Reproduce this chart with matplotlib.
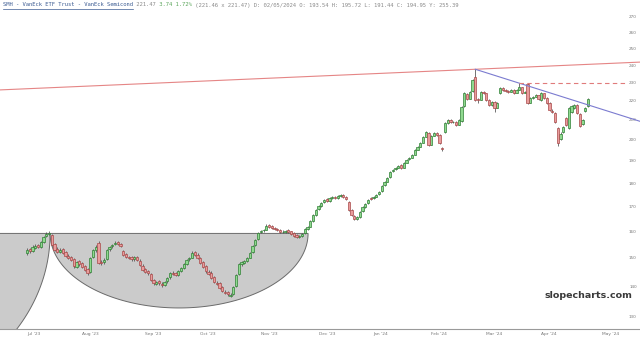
import numpy as np
import pandas as pd
import matplotlib
matplotlib.use("Agg")
import matplotlib.pyplot as plt
import matplotlib.ticker as mticker
from matplotlib.patches import Polygon
from matplotlib.lines import Line2D

# daily OHLC, one value per trading day starting 2023-07-03
opens = [152.0,153.5,152.8,154.0,154.9,154.3,156.2,158.3,159.0,158.8,
         155.2,153.6,152.4,153.3,152.2,151.0,150.6,149.8,147.0,149.0,
         148.3,147.2,146.2,145.1,150.4,153.0,155.7,148.6,148.5,149.6,
         153.4,154.4,155.2,156.0,155.5,152.6,151.6,150.2,150.4,149.6,
         150.6,149.2,147.4,146.2,145.4,144.5,142.2,140.9,141.8,141.0,
         140.7,141.8,143.2,144.9,144.6,144.1,145.5,146.6,148.0,149.6,
         150.3,152.3,151.4,150.2,148.6,147.3,145.0,144.9,143.3,141.2,
         141.2,139.9,138.3,138.2,137.0,137.6,140.2,144.3,148.0,148.4,
         149.2,150.3,152.2,154.8,157.2,159.8,160.6,160.9,162.6,162.2,
         161.7,161.3,160.9,159.8,160.1,160.6,160.2,159.4,158.6,157.9,
         158.5,159.4,161.3,162.1,164.5,166.9,169.0,170.6,171.9,173.2,
         172.7,173.9,174.4,173.9,174.7,175.2,174.3,172.0,168.6,166.5,
         165.0,166.1,168.2,170.2,171.5,173.6,173.6,174.4,175.3,176.8,
         179.2,180.9,182.7,185.4,186.3,187.2,188.2,187.2,189.5,190.9,
         191.8,193.2,195.6,197.0,198.9,201.9,203.8,198.0,202.4,203.8,
         202.5,196.5,204.0,208.9,210.4,209.0,209.4,207.9,209.5,217.3,
         224.2,221.5,225.4,233.5,221.5,220.9,225.3,224.3,220.9,217.8,
         219.9,216.7,224.6,227.5,226.0,225.4,225.3,226.4,224.7,226.4,
         227.6,224.7,229.6,219.3,222.0,222.6,223.2,220.5,224.3,222.0,
         219.3,215.0,214.0,206.1,200.7,204.2,211.2,206.1,214.4,216.5,
         218.0,213.3,208.2,214.9,217.5]
highs = [153.8,154.0,154.8,155.3,155.4,156.5,158.4,159.8,160.4,159.2,
         155.8,154.3,153.8,153.7,152.6,151.6,151.0,150.2,149.2,149.5,
         148.6,147.5,146.5,150.6,153.6,154.8,156.3,149.4,150.0,153.5,
         154.7,155.5,156.3,156.4,155.9,153.0,152.0,151.0,150.8,151.0,
         151.0,149.6,147.9,146.6,145.8,144.9,142.6,142.1,142.2,141.5,
         142.0,143.4,145.1,145.3,145.0,145.9,146.9,148.3,149.8,150.6,
         152.6,152.8,151.9,150.6,149.0,147.6,145.9,145.3,143.7,142.0,
         141.6,140.3,139.0,138.6,137.9,140.3,144.5,148.3,149.2,149.5,
         150.6,152.4,155.0,157.3,160.0,160.9,161.2,163.0,163.1,162.6,
         162.1,161.7,161.3,160.6,160.9,161.0,160.5,159.8,159.0,158.9,
         159.6,161.5,162.3,164.8,167.2,169.3,170.9,172.2,173.5,173.6,
         174.3,174.7,174.8,175.1,175.6,175.6,174.7,172.4,169.0,166.9,
         166.4,168.5,170.5,171.8,173.5,174.0,174.7,175.6,176.9,179.5,
         181.2,183.0,185.7,186.6,187.5,188.4,188.6,189.8,191.2,192.1,
         193.5,195.9,197.3,199.2,202.2,204.7,204.2,202.7,204.1,204.2,
         202.9,197.0,209.2,210.7,210.8,209.8,209.8,210.7,217.5,225.0,
         224.6,225.6,232.4,237.9,222.0,225.6,225.7,224.7,221.3,220.2,
         220.3,219.6,227.8,228.0,226.9,226.0,226.7,226.8,226.7,230.0,
         228.0,225.6,229.9,222.3,222.9,223.9,223.6,225.0,224.7,222.4,
         219.7,215.8,214.4,206.6,204.0,207.4,211.8,217.0,218.0,218.5,
         218.6,213.8,210.7,217.0,222.0]
lows = [151.4,152.0,152.4,153.4,153.7,154.0,155.8,157.9,158.6,154.6,
        152.6,151.8,151.9,151.5,150.4,149.6,148.9,146.6,146.5,147.4,
        146.4,145.3,144.1,144.8,150.0,152.4,147.9,147.6,148.0,149.3,
        152.8,153.9,154.8,154.9,154.1,150.8,150.0,149.6,149.2,149.2,
        148.9,147.1,145.3,144.6,144.2,141.9,140.7,140.5,140.7,140.0,
        140.3,141.4,142.8,143.9,143.5,143.8,145.1,146.2,147.6,149.2,
        150.0,150.8,149.6,147.8,146.4,144.9,143.9,142.6,141.1,140.5,
        139.1,138.1,137.4,137.0,136.5,137.2,139.8,143.9,147.4,147.9,
        148.8,150.0,151.9,154.4,156.8,159.4,160.0,160.6,161.5,161.0,
        160.6,160.2,159.6,159.4,159.7,159.6,158.8,158.0,157.5,157.5,
        158.1,159.0,160.9,161.8,164.1,166.5,168.6,170.2,171.5,172.0,
        172.3,173.5,173.3,173.5,174.3,173.7,172.9,168.3,166.2,164.6,
        164.6,165.7,167.8,169.8,171.1,172.9,173.2,174.0,174.9,176.4,
        178.8,180.5,182.3,185.0,185.9,186.8,186.5,186.8,189.1,190.5,
        191.4,192.8,195.2,196.6,198.5,201.5,197.3,197.6,202.0,202.2,
        198.2,195.0,203.6,208.4,208.7,208.6,207.2,207.5,209.1,216.9,
        220.8,221.1,225.0,220.2,219.0,220.5,224.0,220.2,217.5,217.4,
        214.5,216.3,224.2,225.8,225.2,224.6,224.9,224.0,224.3,226.0,
        224.0,224.3,218.6,218.9,221.5,222.2,220.8,220.1,221.3,218.6,
        214.9,213.9,208.7,197.5,200.0,203.6,207.2,205.6,214.0,216.0,
        213.3,206.6,207.8,214.4,217.0]
closes = [153.1,152.7,154.2,154.6,154.2,156.1,158.0,159.2,159.6,155.0,
          153.1,152.3,153.1,152.0,150.9,150.1,149.4,147.2,148.7,147.9,
          146.9,145.8,144.7,150.1,153.1,154.2,148.3,148.3,149.4,153.1,
          154.2,155.0,155.7,155.3,154.6,151.2,150.5,150.1,149.7,150.5,
          149.4,147.6,145.8,145.1,144.7,142.3,141.2,141.6,141.2,140.5,
          141.6,143.0,144.7,144.4,144.0,145.4,146.5,147.9,149.4,150.1,
          152.0,151.2,150.1,148.3,146.9,145.4,144.4,143.0,141.6,140.9,
          139.5,138.5,137.8,137.5,137.2,139.9,144.0,147.9,148.7,149.0,
          150.1,152.0,154.6,156.9,159.6,160.4,160.7,162.3,161.9,161.5,
          161.1,160.7,160.0,160.0,160.4,160.0,159.2,158.4,158.0,158.4,
          159.2,161.1,161.9,164.3,166.7,168.8,170.4,171.7,173.0,172.5,
          173.8,174.2,173.8,174.6,175.1,174.2,173.4,168.8,166.7,165.1,
          165.9,168.0,170.0,171.3,173.0,173.4,174.2,175.1,176.4,179.0,
          180.7,182.5,185.2,186.1,187.0,187.9,187.0,189.3,190.7,191.6,
          193.0,195.4,196.8,198.7,201.7,204.2,197.8,202.2,203.6,202.7,
          198.7,195.9,208.7,210.2,209.2,209.2,207.7,210.2,217.0,224.5,
          221.3,225.1,231.8,220.7,220.7,225.1,224.5,220.7,218.0,219.7,
          216.5,219.1,227.3,226.2,225.6,225.1,226.2,224.5,226.2,227.8,
          224.5,225.1,219.1,221.8,222.4,223.4,221.3,224.5,221.8,219.1,
          215.4,214.4,209.2,198.7,203.2,206.7,207.7,216.5,217.5,218.0,
          213.8,207.2,210.2,216.5,221.5]

price_ticks = [130, 140, 150, 160, 170, 180, 190, 200, 210, 220, 230, 240, 250, 260, 270]
holidays = ["2023-07-04", "2023-09-04", "2023-11-23", "2023-12-25",
            "2024-01-01", "2024-01-15", "2024-02-19", "2024-03-29"]

# drawn studies: (bar, price) anchors
red_trend = [(-10, 226.2), (163, 237.9)]
blue_trend = [(163, 237.9), (215.6, 212.8)]
resistance = (179, 230.0, 217.5)          # start bar, level, end bar
cups = [(-137.1, 8.4, 159.4, 104.5),      # left bar, right bar, rim, bottom
        (8.4, 102.2, 159.4, 132.9)]

title_parts = [("SMH - VanEck ETF Trust - VanEck Semicond", "#3b5b92"),
               (" 221.47", "#8a8a8a"),
               (" 3.74 1.72%", "#5aa55a"),
               (" (221.46 x 221.47) D: 02/05/2024 O: 193.54 H: 195.72 L: 191.44 C: 194.95 Y: 255.39", "#8a8a8a")]

days = pd.bdate_range("2023-07-03", "2024-05-31")
days = days[~days.isin(pd.to_datetime(holidays))]
n = len(closes)
idx = np.arange(n)
o = np.array(opens); h = np.array(highs); l = np.array(lows); c = np.array(closes)

fig = plt.figure(figsize=(6.4, 3.43), dpi=100)
ax = fig.add_axes([0, 14 / 343, 1, 319 / 343])
ax.set_yscale("log")
xmin, xmax = -9.82, 222.9
ax.set_xlim(xmin, xmax)
ax.set_ylim(126.25, 274.9)

for s in ["top", "left", "right"]:
    ax.spines[s].set_visible(False)
ax.spines["bottom"].set_color("#9a9a9a")
ax.spines["bottom"].set_linewidth(0.8)

# cups: half ellipses built in screen space so they look round on the log axis
for left, right, rim, bottom in cups:
    x0, yr = ax.transData.transform((left, rim))
    x1, _ = ax.transData.transform((right, rim))
    _, yb = ax.transData.transform((left, bottom))
    t = np.linspace(np.pi, 2 * np.pi, 300)
    cx, a, b = (x0 + x1) / 2, (x1 - x0) / 2, yr - yb
    pts = np.column_stack([cx + a * np.cos(t), yr + b * np.sin(t)])
    ax.add_patch(Polygon(ax.transData.inverted().transform(pts), closed=True,
                         fc="#cbcbcb", ec="#6a6a6a", lw=0.7, zorder=1))

# candles
up = c >= o
ax.vlines(idx, l, h, color="#4d4d4d", lw=0.55, zorder=3)
body = np.maximum(np.abs(c - o), 0.3)
ax.bar(idx[up], body[up], bottom=np.minimum(o, c)[up], width=0.82,
       color="#8fd98f", edgecolor="#2f7f34", lw=0.5, zorder=4)
ax.bar(idx[~up], body[~up], bottom=np.minimum(o, c)[~up], width=0.82,
       color="#e99c9c", edgecolor="#a84848", lw=0.5, zorder=4)

# trend lines, extended to the chart edge
def extend(p0, p1, x_from, x_to):
    k = (np.log(p1[1]) - np.log(p0[1])) / (p1[0] - p0[0])
    xs = np.array([x_from, x_to])
    return xs, np.exp(np.log(p0[1]) + k * (xs - p0[0]))

xs, ys = extend(*red_trend, xmin, xmax)
ax.plot(xs, ys, color="#e58585", lw=0.8, zorder=5)
xs, ys = extend(*blue_trend, blue_trend[0][0], xmax)
ax.plot(xs, ys, color="#7b7bd0", lw=0.8, zorder=5)
ax.hlines(resistance[1], resistance[0], resistance[2], colors="#e07b7b",
          lw=0.8, linestyles=(0, (4, 3)), zorder=5)

# price labels inside on the right
ax.set_yticks([])
ax.yaxis.set_minor_locator(mticker.NullLocator())
for p in price_ticks:
    ax.text(0.989, p, str(p), transform=ax.get_yaxis_transform(), ha="center",
            va="center", fontsize=3.0, color="#777777")

# month labels
month_pos = [i for i in range(len(days)) if (i == 0 or days[i].month != days[i - 1].month) and i <= xmax]
ax.set_xticks(month_pos)
ax.set_xticklabels([days[i].strftime("%b '%y") for i in month_pos], ha="left")
ax.tick_params(axis="x", length=0, pad=2.5, labelsize=3.2, labelcolor="#777777")

ax.text(0.988, (329 - 296) / 319, "slopecharts.com", transform=ax.transAxes,
        ha="right", va="center", fontsize=6.8, fontweight="bold", color="#3a3a3a")

# header line, monospace so segments are placed by character count
r = fig.canvas.get_renderer()
full = "".join(p[0] for p in title_parts)
probe = fig.text(0, 0, full, fontsize=4.0, family="DejaVu Sans Mono")
char_w = probe.get_window_extent(r).width / len(full)
probe.remove()
pos = 0
for k, (txt, col) in enumerate(title_parts):
    x = 3 + pos * char_w
    fig.text(x / 640, 1 - 5 / 343, txt, ha="left", va="center", fontsize=4.0,
             family="DejaVu Sans Mono", color=col)
    if k == 0:
        fig.add_artist(Line2D([x / 640, (x + len(txt) * char_w) / 640],
                              [1 - 8.5 / 343] * 2, color=col, lw=0.5))
    pos += len(txt)

fig.savefig("out.png", dpi=100)
